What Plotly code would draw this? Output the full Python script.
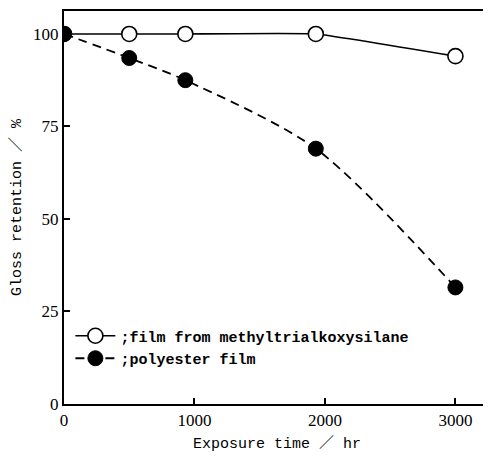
import plotly.graph_objects as go

# Data
exposure_time = [0, 500, 930, 1930, 3000]
silane_film = [100, 100, 100, 100, 94]
polyester_film = [100, 93.5, 87.5, 69, 31.5]

silane_name = ";film from methyltrialkoxysilane"
polyester_name = ";polyester film"
y_ticks = [0, 25, 50, 75, 100]
x_ticks = [0, 1000, 2000, 3000]

fig = go.Figure()
fig.add_trace(go.Scatter(
    x=exposure_time, y=silane_film, name=silane_name, mode="lines+markers",
    line=dict(color="black", width=1.6, shape="spline", smoothing=0.3),
    marker=dict(symbol="circle", size=15, color="white", line=dict(color="black", width=1.6)),
))
fig.add_trace(go.Scatter(
    x=exposure_time, y=polyester_film, name=polyester_name, mode="lines+markers",
    line=dict(color="black", width=1.8, dash="9px,6px", shape="spline", smoothing=0.8),
    marker=dict(symbol="circle", size=15, color="black", line=dict(color="black", width=1)),
))

tickfont = dict(family="Liberation Serif, Times New Roman, serif", size=17, color="black")
titlefont = dict(family="Liberation Mono, DejaVu Sans Mono, Noto Sans CJK JP, monospace", size=15, color="black")

fig.update_layout(
    width=483, height=453,
    margin=dict(l=56, r=1, t=3, b=57),
    paper_bgcolor="white", plot_bgcolor="white",
    showlegend=True,
    legend=dict(
        x=0.015, y=0.215, xanchor="left", yanchor="top",
        bgcolor="rgba(0,0,0,0)",
        font=dict(family="Liberation Mono, DejaVu Sans Mono, monospace", size=15, color="black", weight="bold"),
        itemwidth=40, tracegroupgap=0,
    ),
    xaxis=dict(
        range=[0, 3265], tickvals=x_ticks, ticks="inside", ticklen=6, tickwidth=1.5,
        tickcolor="black", showline=True, linecolor="black", linewidth=2, mirror=True,
        showgrid=False, zeroline=False, tickfont=tickfont, automargin=False,
        title=dict(text="Exposure time ／ hr", font=titlefont, standoff=8),
    ),
    yaxis=dict(
        range=[0, 106.2], tickvals=y_ticks, ticks="inside", ticklen=6, tickwidth=1.5,
        tickcolor="black", showline=True, linecolor="black", linewidth=2, mirror=True,
        showgrid=False, zeroline=False, tickfont=tickfont, automargin=False,
        title=dict(text="Gloss retention ／ %", font=titlefont, standoff=14),
    ),
)

fig.write_html("out.html")
